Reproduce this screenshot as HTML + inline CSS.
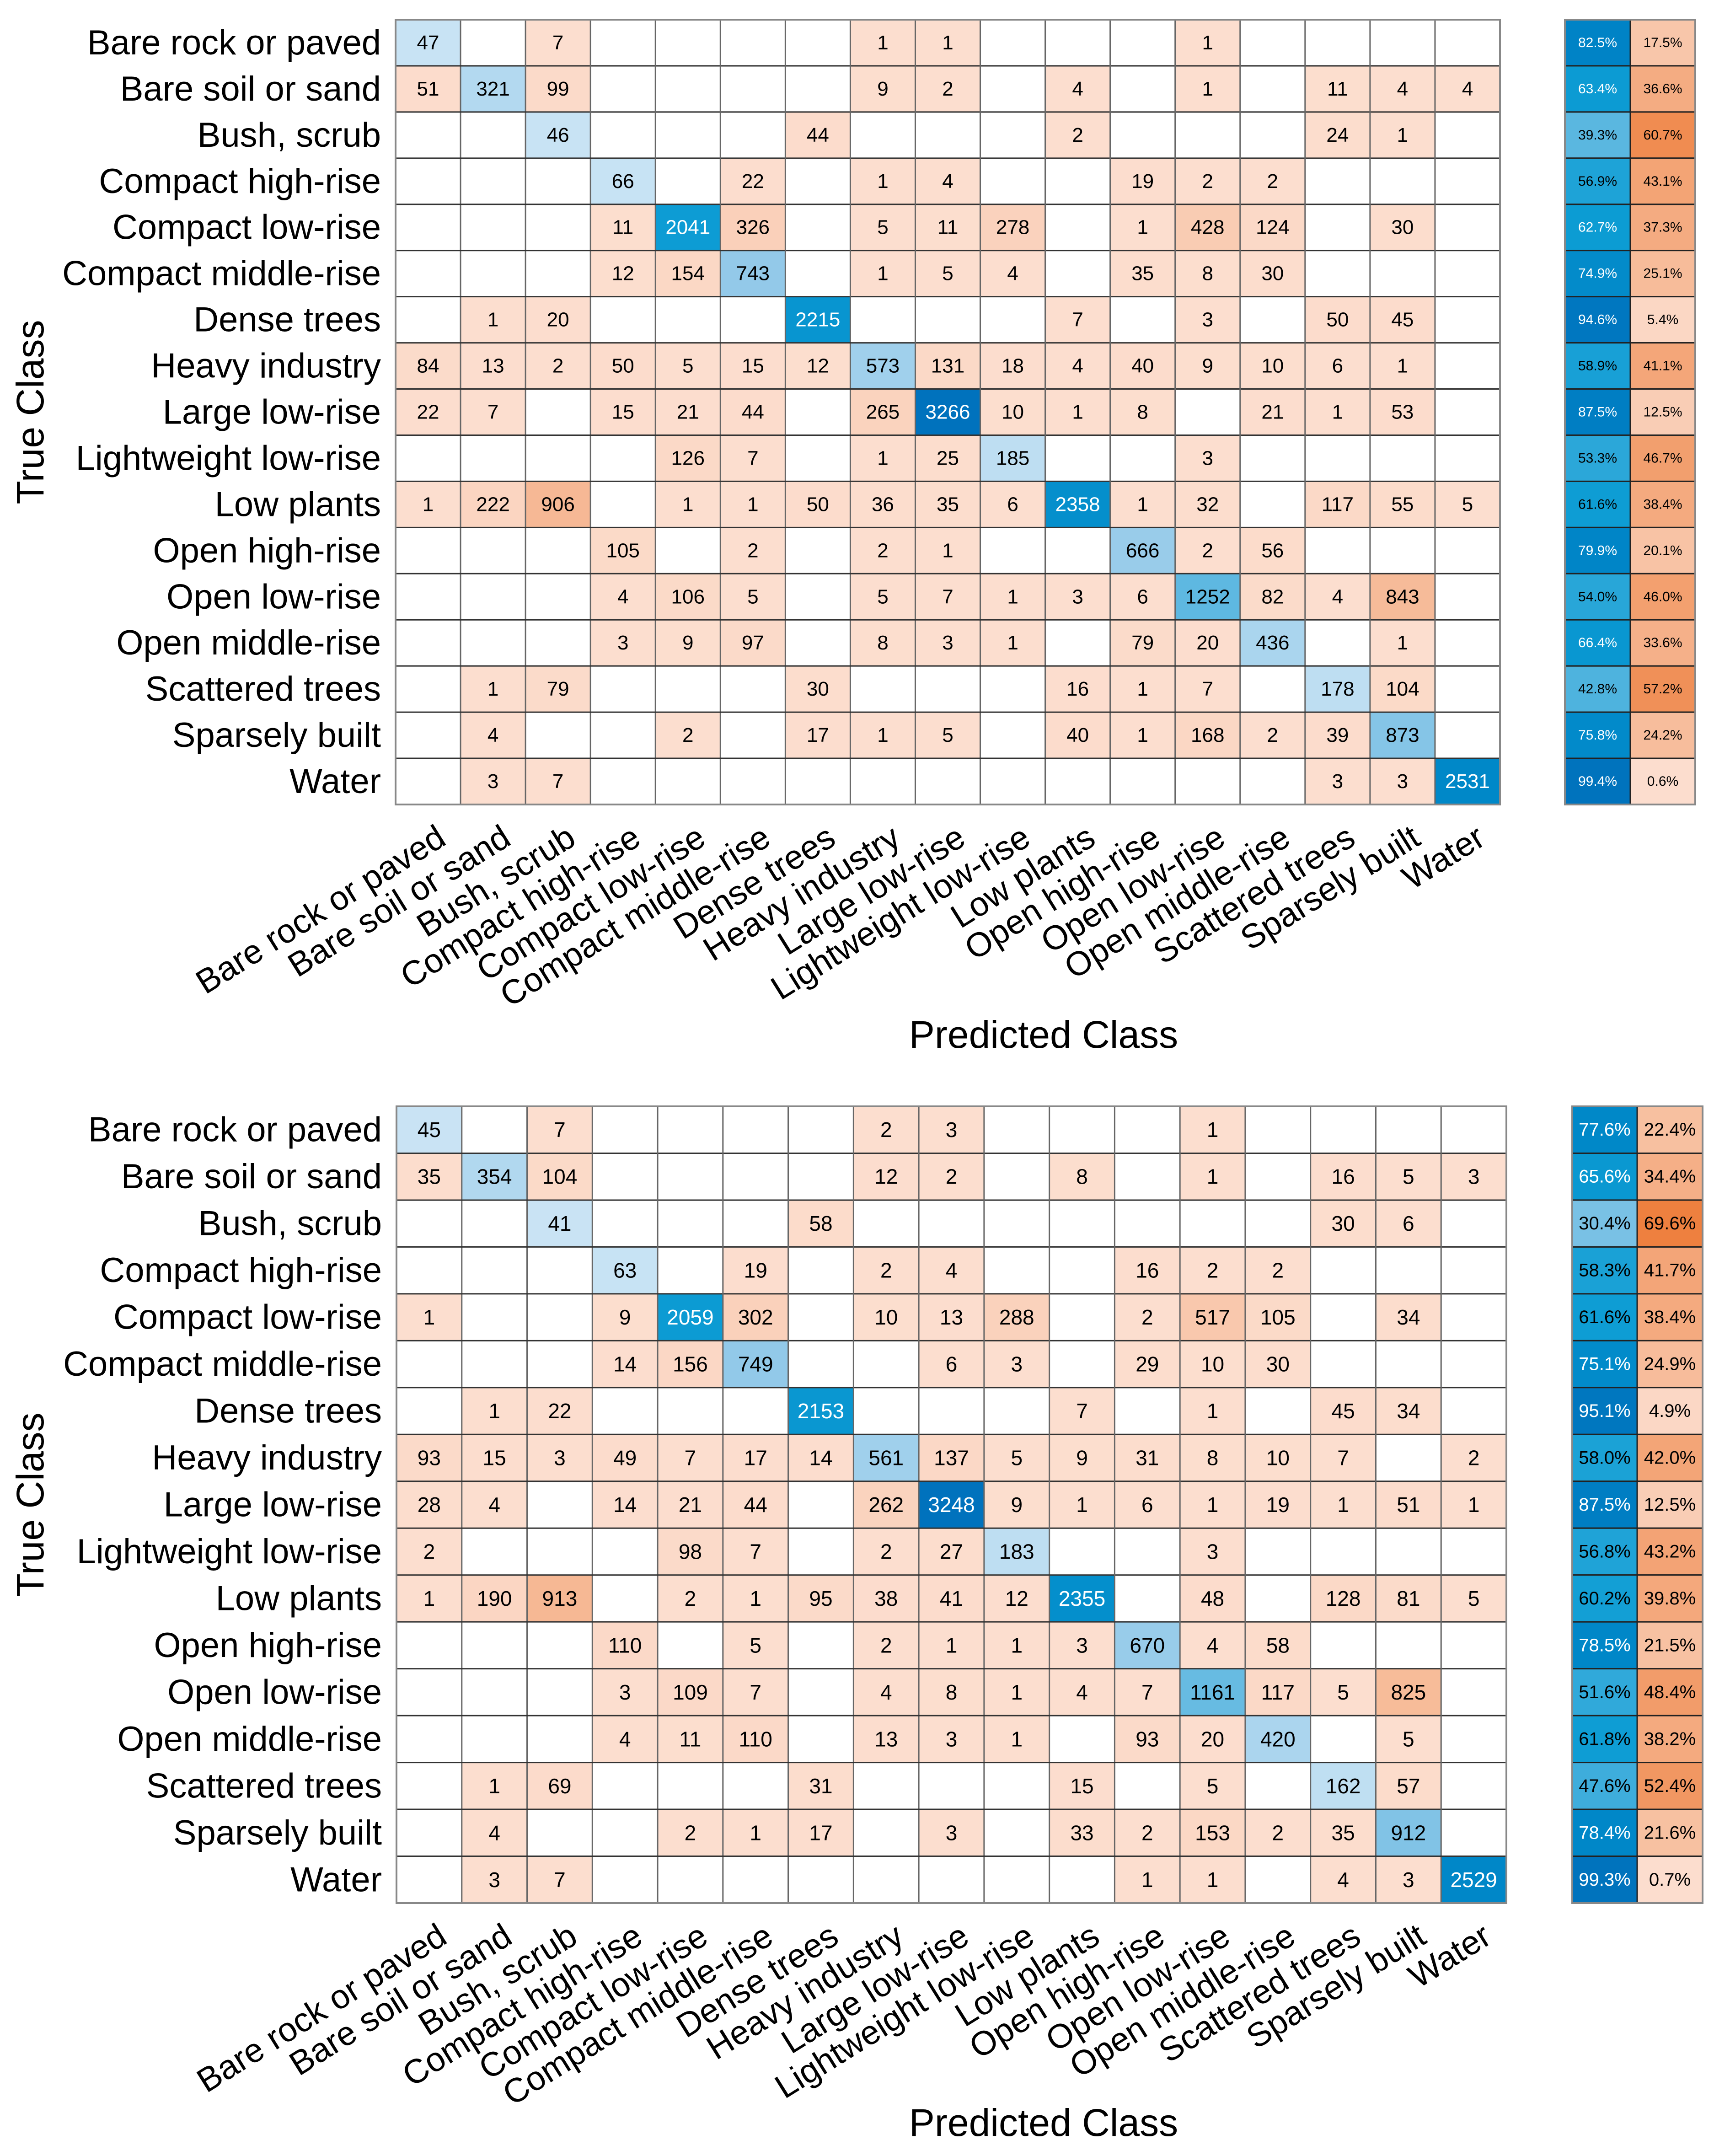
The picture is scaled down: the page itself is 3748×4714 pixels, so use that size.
<!DOCTYPE html>
<html><head><meta charset="utf-8"><style>
html,body{margin:0;padding:0;background:#fff;}
svg{display:block;font-family:"Liberation Sans",Arial,sans-serif;}
</style></head><body>
<svg id="chart" width="3748" height="4714" viewBox="0 0 3748 4714" xmlns="http://www.w3.org/2000/svg"></svg>
<script>
const classes = ["Bare rock or paved","Bare soil or sand","Bush, scrub","Compact high-rise","Compact low-rise","Compact middle-rise","Dense trees","Heavy industry","Large low-rise","Lightweight low-rise","Low plants","Open high-rise","Open low-rise","Open middle-rise","Scattered trees","Sparsely built","Water"];
const topCells = [
 [[0,47],[2,7],[7,1],[8,1],[12,1]],
 [[0,51],[1,321],[2,99],[7,9],[8,2],[10,4],[12,1],[14,11],[15,4],[16,4]],
 [[2,46],[6,44],[10,2],[14,24],[15,1]],
 [[3,66],[5,22],[7,1],[8,4],[11,19],[12,2],[13,2]],
 [[3,11],[4,2041],[5,326],[7,5],[8,11],[9,278],[11,1],[12,428],[13,124],[15,30]],
 [[3,12],[4,154],[5,743],[7,1],[8,5],[9,4],[11,35],[12,8],[13,30]],
 [[1,1],[2,20],[6,2215],[10,7],[12,3],[14,50],[15,45]],
 [[0,84],[1,13],[2,2],[3,50],[4,5],[5,15],[6,12],[7,573],[8,131],[9,18],[10,4],[11,40],[12,9],[13,10],[14,6],[15,1]],
 [[0,22],[1,7],[3,15],[4,21],[5,44],[7,265],[8,3266],[9,10],[10,1],[11,8],[13,21],[14,1],[15,53]],
 [[4,126],[5,7],[7,1],[8,25],[9,185],[12,3]],
 [[0,1],[1,222],[2,906],[4,1],[5,1],[6,50],[7,36],[8,35],[9,6],[10,2358],[11,1],[12,32],[14,117],[15,55],[16,5]],
 [[3,105],[5,2],[7,2],[8,1],[11,666],[12,2],[13,56]],
 [[3,4],[4,106],[5,5],[7,5],[8,7],[9,1],[10,3],[11,6],[12,1252],[13,82],[14,4],[15,843]],
 [[3,3],[4,9],[5,97],[7,8],[8,3],[9,1],[11,79],[12,20],[13,436],[15,1]],
 [[1,1],[2,79],[6,30],[10,16],[11,1],[12,7],[14,178],[15,104]],
 [[1,4],[4,2],[6,17],[7,1],[8,5],[10,40],[11,1],[12,168],[13,2],[14,39],[15,873]],
 [[1,3],[2,7],[14,3],[15,3],[16,2531]]
];
const topCorrect = [82.5,63.4,39.3,56.9,62.7,74.9,94.6,58.9,87.5,53.3,61.6,79.9,54.0,66.4,42.8,75.8,99.4];
const topWrong = [17.5,36.6,60.7,43.1,37.3,25.1,5.4,41.1,12.5,46.7,38.4,20.1,46.0,33.6,57.2,24.2,0.6];
const botCells = [
 [[0,45],[2,7],[7,2],[8,3],[12,1]],
 [[0,35],[1,354],[2,104],[7,12],[8,2],[10,8],[12,1],[14,16],[15,5],[16,3]],
 [[2,41],[6,58],[14,30],[15,6]],
 [[3,63],[5,19],[7,2],[8,4],[11,16],[12,2],[13,2]],
 [[0,1],[3,9],[4,2059],[5,302],[7,10],[8,13],[9,288],[11,2],[12,517],[13,105],[15,34]],
 [[3,14],[4,156],[5,749],[8,6],[9,3],[11,29],[12,10],[13,30]],
 [[1,1],[2,22],[6,2153],[10,7],[12,1],[14,45],[15,34]],
 [[0,93],[1,15],[2,3],[3,49],[4,7],[5,17],[6,14],[7,561],[8,137],[9,5],[10,9],[11,31],[12,8],[13,10],[14,7],[16,2]],
 [[0,28],[1,4],[3,14],[4,21],[5,44],[7,262],[8,3248],[9,9],[10,1],[11,6],[12,1],[13,19],[14,1],[15,51],[16,1]],
 [[0,2],[4,98],[5,7],[7,2],[8,27],[9,183],[12,3]],
 [[0,1],[1,190],[2,913],[4,2],[5,1],[6,95],[7,38],[8,41],[9,12],[10,2355],[12,48],[14,128],[15,81],[16,5]],
 [[3,110],[5,5],[7,2],[8,1],[9,1],[10,3],[11,670],[12,4],[13,58]],
 [[3,3],[4,109],[5,7],[7,4],[8,8],[9,1],[10,4],[11,7],[12,1161],[13,117],[14,5],[15,825]],
 [[3,4],[4,11],[5,110],[7,13],[8,3],[9,1],[11,93],[12,20],[13,420],[15,5]],
 [[1,1],[2,69],[6,31],[10,15],[12,5],[14,162],[15,57]],
 [[1,4],[4,2],[5,1],[6,17],[8,3],[10,33],[11,2],[12,153],[13,2],[14,35],[15,912]],
 [[1,3],[2,7],[11,1],[12,1],[14,4],[15,3],[16,2529]]
];
const botCorrect = [77.6,65.6,30.4,58.3,61.6,75.1,95.1,58.0,87.5,56.8,60.2,78.5,51.6,61.8,47.6,78.4,99.3];
const botWrong = [22.4,34.4,69.6,41.7,38.4,24.9,4.9,42.0,12.5,43.2,39.8,21.5,48.4,38.2,52.4,21.6,0.7];

const NS="http://www.w3.org/2000/svg";
const svg=document.getElementById('chart');
function mk(tag,attrs,parent){const e=document.createElementNS(NS,tag);for(const k in attrs)e.setAttribute(k,attrs[k]);(parent||svg).appendChild(e);return e;}
function hex(h){return [parseInt(h.substr(1,2),16),parseInt(h.substr(3,2),16),parseInt(h.substr(5,2),16)];}
function interp(stops,t){t=Math.max(0,Math.min(1,t));for(let i=1;i<stops.length;i++){if(t<=stops[i][0]){const a=stops[i-1],b=stops[i];const f=(t-a[0])/(b[0]-a[0]);const ca=hex(a[1]),cb=hex(b[1]);return ca.map((v,j)=>Math.round(v+(cb[j]-v)*f));}}return hex(stops[stops.length-1][1]);}
const blueStops=[[0,'#CCE5F5'],[0.23,'#92C9E9'],[0.62,'#0D9DD4'],[0.78,'#0087C8'],[1,'#0072BD']];
const orangeStops=[[0,'#FCDECF'],[0.28,'#F6B894'],[0.7,'#EE7F3E'],[1,'#D95319']];
function rgb(c){return 'rgb('+c.join(',')+')';}
function lum(c){return (0.299*c[0]+0.587*c[1]+0.114*c[2])/255;}

function drawChart(cells,correct,wrong,g){
  const {x0,y0,w,h,sx0,sx1,sx2,numFont,sumFont,tag}=g;
  const cw=w/17, rh=h/17;
  const xs=i=>x0+i*cw, ys=i=>y0+i*rh;
  let maxV=0; cells.forEach(r=>r.forEach(c=>{if(c[1]>maxV)maxV=c[1];}));
  const grp=mk('g',{});
  
  
  cells.forEach((row,r)=>{
    row.forEach(([c,v])=>{
      const col=(r===c)?interp(blueStops,v/maxV):interp(orangeStops,v/maxV);
      const rc=mk('rect',{x:xs(c),y:ys(r),width:cw,height:rh,fill:rgb(col)},grp);
      
      
      const t=mk('text',{x:xs(c)+cw/2,y:ys(r)+rh/2,'text-anchor':'middle','dominant-baseline':'central','font-size':numFont,fill:lum(col)<0.47?'#fff':'#000'},grp);
      
      
      t.textContent=v;
    });
  });
  for(let i=0;i<=17;i++){
    mk('line',{x1:xs(i),y1:y0,x2:xs(i),y2:y0+h,stroke:'#666','stroke-width':3},grp);
    mk('line',{x1:x0,y1:ys(i),x2:x0+w,y2:ys(i),stroke:'#333','stroke-width':3},grp);
  }
  mk('rect',{x:x0,y:y0,width:w,height:h,fill:'none',stroke:'#888','stroke-width':4},grp);
  const sg=mk('g',{});
  
  
  for(let r=0;r<17;r++){
    [[correct[r],sx0,sx1,blueStops],[wrong[r],sx1,sx2,orangeStops]].forEach(([p,a,b,st])=>{
      const col=interp(st,p/100);
      mk('rect',{x:a,y:ys(r),width:b-a,height:rh,fill:rgb(col),stroke:'#222','stroke-width':3},sg);
      const t=mk('text',{x:(a+b)/2,y:ys(r)+rh/2,'text-anchor':'middle','dominant-baseline':'central','font-size':sumFont,fill:lum(col)<0.47?'#fff':'#000'},sg);
      
      
      t.textContent=p.toFixed(1)+'%';
    });
  }
  mk('rect',{x:sx0,y:y0,width:sx2-sx0,height:h,fill:'none',stroke:'#888','stroke-width':4},sg);
  classes.forEach((n,i)=>{
    const t=mk('text',{x:x0-32,y:ys(i)+rh/2,'text-anchor':'end','dominant-baseline':'central','font-size':76,fill:'#000'});
    
    
    t.textContent=n;
    const cx=xs(i)+cw/2+15, cy=y0+h+40;
    const u=mk('text',{x:cx,y:cy,'text-anchor':'end','font-size':74,fill:'#000',transform:'rotate(-32 '+cx+' '+cy+')',dy:'0.72em'});
    
    
    u.textContent=n;
  });
  const xt=mk('text',{x:2282,y:g.xTitleY,'text-anchor':'middle','dominant-baseline':'central','font-size':84,fill:'#000'});
  
  
  xt.textContent='Predicted Class';
  const yt=mk('text',{x:66,y:y0+h/2,'text-anchor':'middle','dominant-baseline':'central','font-size':84,fill:'#000',transform:'rotate(-90 66 '+(y0+h/2)+')'});
  
  
  yt.textContent='True Class';
}
drawChart(topCells,topCorrect,topWrong,{x0:865,y0:43,w:2415,h:1716,sx0:3422,sx1:3565,sx2:3707,numFont:44,sumFont:30,tag:'top',xTitleY:2262});
drawChart(botCells,botCorrect,botWrong,{x0:867,y0:2419,w:2427,h:1742,sx0:3438,sx1:3580,sx2:3723,numFont:46,sumFont:40,tag:'bottom',xTitleY:4641});
</script>
</body></html>
